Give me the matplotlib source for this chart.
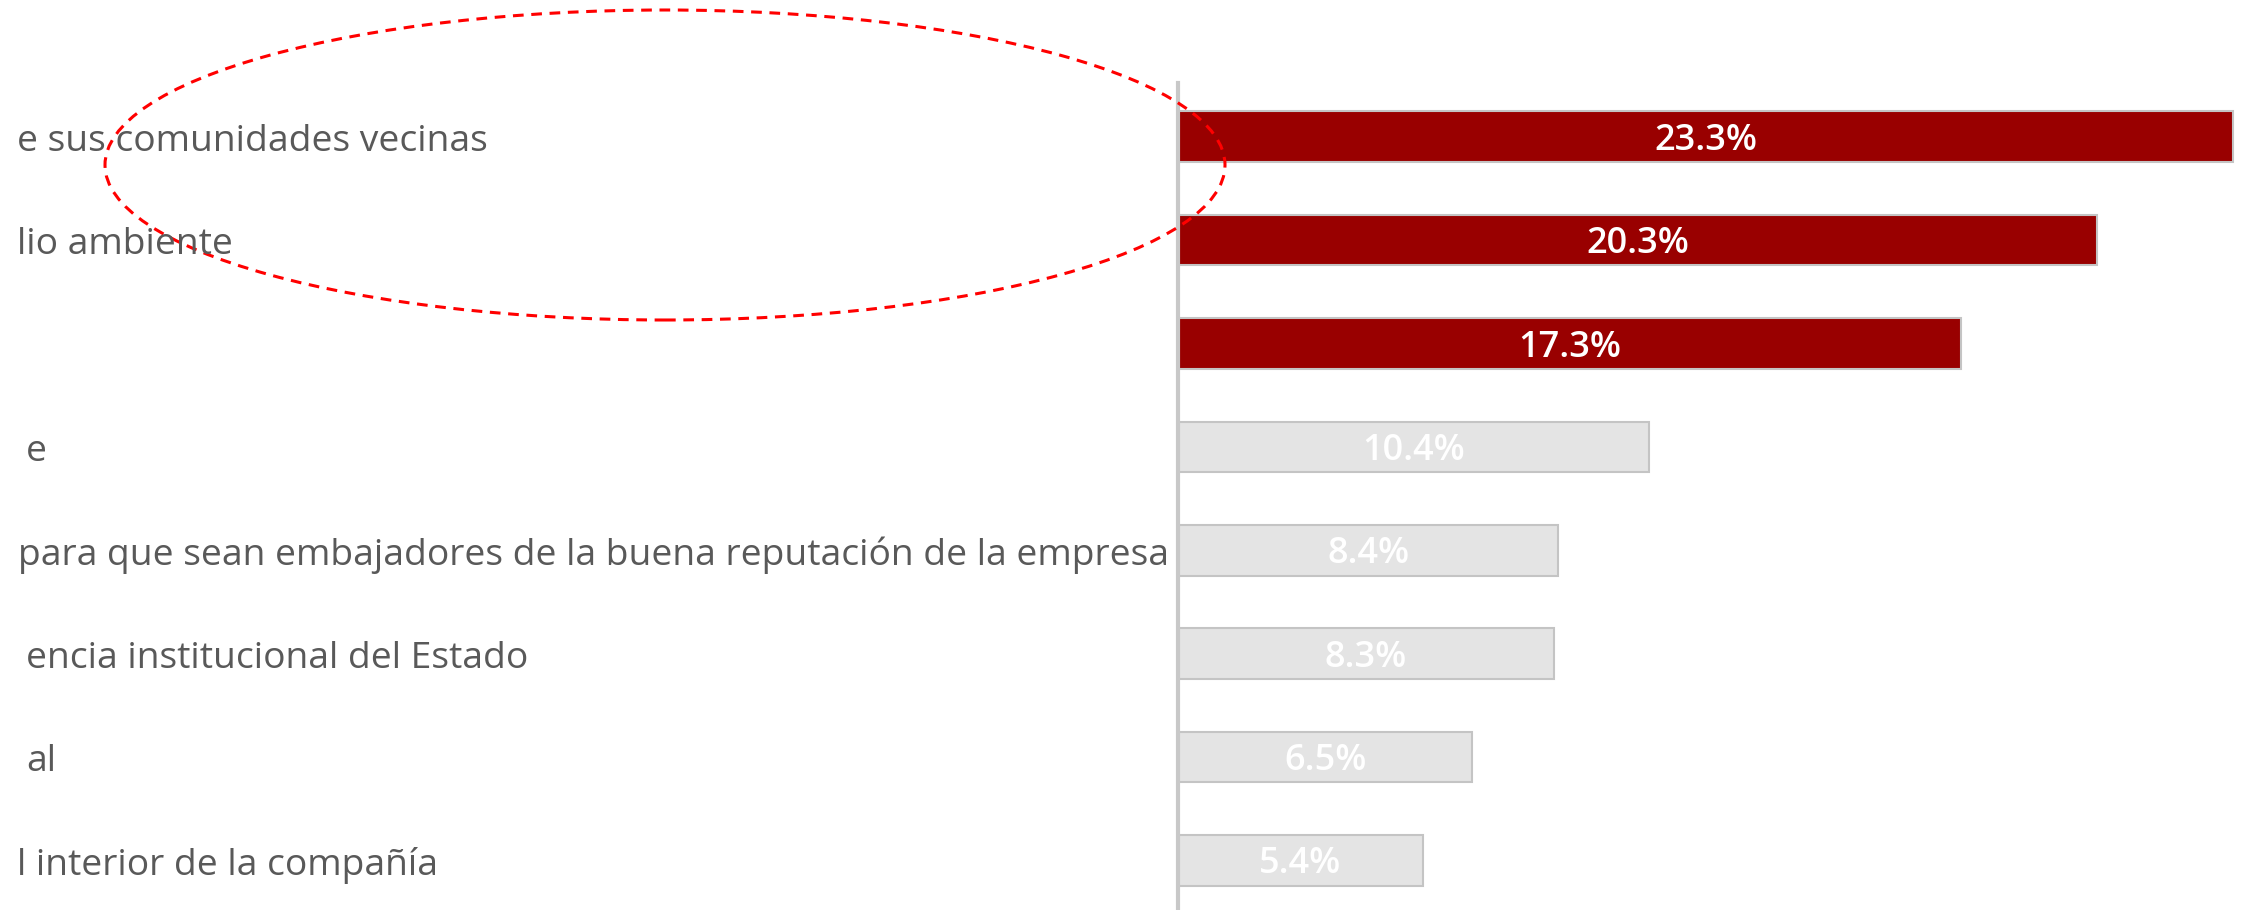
import matplotlib
matplotlib.use("Agg")
import matplotlib.pyplot as plt
from matplotlib.patches import Ellipse
from matplotlib.transforms import blended_transform_factory, offset_copy

# data (the source image is cropped on the left, only these parts of the labels show)
labels = [
    "e sus comunidades vecinas",
    "lio ambiente",
    "",
    "e",
    "para que sean embajadores de la buena reputación de la empresa",
    "encia institucional del Estado",
    "al",
    "l interior de la compañía",
]
values = [23.3, 20.3, 17.3, 10.4, 8.4, 8.3, 6.5, 5.4]
highlight = [True, True, True, False, False, False, False, False]

# left edge of each label fragment, in pixels
label_x = [17, 17, 17, 26, 18, 26, 26, 17]

RED = "#990000"
GREY = "#E4E4E4"
W, H = 2252, 910

fig = plt.figure(figsize=(W / 100, H / 100), dpi=100)
fig.patch.set_facecolor("white")
ax = fig.add_axes([1178 / W, 0, 1 - 1178 / W, 1 - 83 / H])

ypos = list(range(len(values)))
colors = [RED if h else GREY for h in highlight]
bars = ax.barh(ypos, values, height=0.49, color=colors,
               edgecolor="#C4C4C4", linewidth=1.5)

ax.set_xlim(0, 23.72)
ax.set_ylim(len(values) - 0.52, -0.52)
ax.set_xticks([])
ax.set_yticks([])
for s in ["top", "right", "bottom"]:
    ax.spines[s].set_visible(False)
ax.spines["left"].set_color("#C8C8C8")
ax.spines["left"].set_linewidth(3)

# value labels inside bars (nudged down a little like the original)
val_trans = offset_copy(ax.transData, fig=fig, x=0, y=-4, units="dots")
for b, v in zip(bars, values):
    ax.text(v / 2, b.get_y() + b.get_height() / 2, f"{v:.1f}%",
            transform=val_trans, ha="center", va="center", color="white",
            fontsize=26, family="Open Sans", fontweight="semibold")

# category labels
trans = blended_transform_factory(fig.transFigure, ax.transData)
trans = offset_copy(trans, fig=fig, x=0, y=-5, units="dots")
for y, lab, lx in zip(ypos, labels, label_x):
    fig.text(lx / W, y, lab, transform=trans, ha="left", va="center",
             color="#595959", fontsize=26.8, family="Open Sans")

# dashed ellipse highlight
ell = Ellipse((665 / W, 1 - 165 / H), 1120 / W, 310 / H,
              transform=fig.transFigure, fill=False, edgecolor="#FF0000",
              linewidth=2.2, linestyle=(0, (3.5, 2.5)))
fig.add_artist(ell)

fig.savefig("out.png", dpi=100, facecolor="white")
